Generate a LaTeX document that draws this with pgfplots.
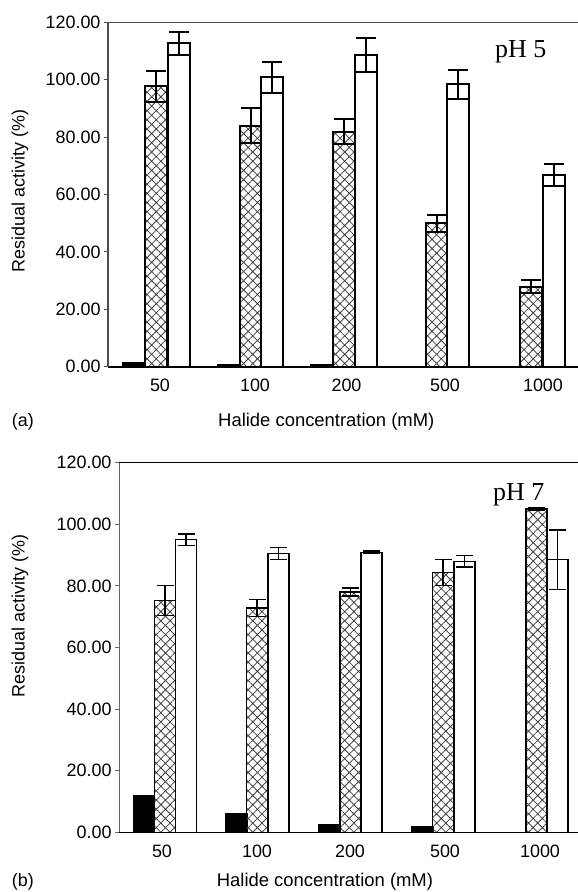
\documentclass[border=0pt]{standalone}
\usepackage{fontspec}
\setmainfont{Liberation Sans}
\newfontfamily\timesfont{Liberation Serif}
\usepackage{pgfplots}
\pgfplotsset{compat=1.18}
\usetikzlibrary{patterns.meta}

\pgfplotsset{
  halide/.style={
    scale only axis, anchor=south west,
    ymin=0, ymax=120, ytick={0,20,...,120},
    axis x line*=bottom, axis y line*=left,
    tick align=outside, major tick length=4bp,
    xtick style={draw=none},
    xticklabels={50,100,200,500,1000},
    tick label style={font=\fontsize{18}{20}\selectfont},
    /pgf/number format/assume math mode=true,
    yticklabel style={/pgf/number format/.cd, fixed, fixed zerofill, precision=2},
    xticklabel style={yshift=-5bp},
    clip=false,
  },
  hatched/.style={pattern={Hatch[angle=45,distance=6.5bp,line width=0.8bp]}, pattern color=black!75},
}

\begin{document}
\begin{tikzpicture}
\useasboundingbox (0,0) rectangle (578bp,-892bp);

% (a) pH 5
\begin{axis}[halide, at={(108bp,-366.7bp)}, width=470bp, height=344.4bp,
  xmin=108, xmax=578, xtick={160,255,346.5,445,543},
  axis line style={black!70, line width=1.2bp},
  x axis line style={black, line width=2bp},
  ytick style={black!70, line width=1bp},
  error bars/error bar style={line width=2bp, black},
  error bars/error mark options={rotate=90, line width=2bp, mark size=10bp, black}]
\addplot[ybar, bar width=22, bar shift=0pt, fill=black, draw=black, line width=2bp]
  coordinates {(134,1.2) (229,0.6) (321.7,0.5) (415,0) (509,0)};
\addplot[ybar, bar width=22, bar shift=0pt, hatched, draw=black, line width=2bp,
  error bars/.cd, y dir=both, y explicit]
  coordinates {(156.3,97.8) +- (0,5.4) (250.5,84.0) +- (0,6.0) (343.7,81.9) +- (0,4.4)
               (437,50.0) +- (0,3.0) (531,27.9) +- (0,2.3)};
\addplot[ybar, bar width=22, bar shift=0pt, fill=white, draw=black, line width=2bp,
  error bars/.cd, y dir=both, y explicit]
  coordinates {(178.5,112.7) +- (0,4.0) (271.8,100.8) +- (0,5.4) (366,108.7) +- (0,5.9)
               (458,98.4) +- (0,5.0) (553.5,66.8) +- (0,3.8)};
\draw[black!70, line width=1.2bp] (rel axis cs:0,1) -- (rel axis cs:1,1);
\end{axis}

% (b) pH 7
\begin{axis}[halide, at={(119bp,-832.3bp)}, width=459bp, height=369.6bp,
  xmin=119, xmax=578, xtick={162,257,350,445,540},
  axis line style={black!60, line width=1bp},
  x axis line style={black, line width=1.5bp},
  ytick style={black!60, line width=1bp},
  error bars/error bar style={line width=1.4bp, black},
  error bars/error mark options={rotate=90, line width=1.4bp, mark size=8.5bp, black}]
\addplot[ybar, bar width=21, bar shift=0pt, fill=black, draw=black, line width=1.5bp]
  coordinates {(143.8,12.0) (236.7,6.0) (329,2.6) (422.5,1.8) (516,0)};
\addplot[ybar, bar width=21, bar shift=0pt, hatched, draw=black, line width=1.5bp,
  error bars/.cd, y dir=both, y explicit]
  coordinates {(165,75.3) +- (0,4.9) (257,72.8) +- (0,2.8) (350.7,78.0) +- (0,1.3)
               (443,84.4) +- (0,4.2) (536.7,105.0) +- (0,0.4)};
\addplot[ybar, bar width=21, bar shift=0pt, fill=white, draw=black, line width=1.5bp,
  error bars/.cd, y dir=both, y explicit]
  coordinates {(186,95.0) +- (0,1.8) (278.3,90.5) +- (0,1.9) (371.5,90.9) +- (0,0.4)
               (464.5,88.0) +- (0,1.9) (557.5,88.5) +- (0,9.6)};
\draw[black, line width=1.2bp] (rel axis cs:0,1) -- (rel axis cs:1,1);
\end{axis}

\begin{scope}[every node/.style={font=\fontsize{18}{20}\selectfont, inner sep=0pt}]
\node[rotate=90] at (20bp,-191bp) {Residual activity (\%)};
\node[rotate=90] at (20bp,-616bp) {Residual activity (\%)};
\node[anchor=base west, font=\fontsize{18.5}{20}\selectfont] at (218bp,-426.7bp) {Halide concentration (mM)};
\node[anchor=base west, font=\fontsize{18.5}{20}\selectfont] at (216.7bp,-886bp) {Halide concentration (mM)};
\node[anchor=base west] at (11.7bp,-426.7bp) {(a)};
\node[anchor=base west] at (11.7bp,-886bp) {(b)};
\node[anchor=base west, font=\timesfont\fontsize{26}{28}\selectfont] at (495bp,-57bp) {pH 5};
\node[anchor=base west, font=\timesfont\fontsize{26}{28}\selectfont] at (493bp,-500bp) {pH 7};
\end{scope}
\end{tikzpicture}
\end{document}
